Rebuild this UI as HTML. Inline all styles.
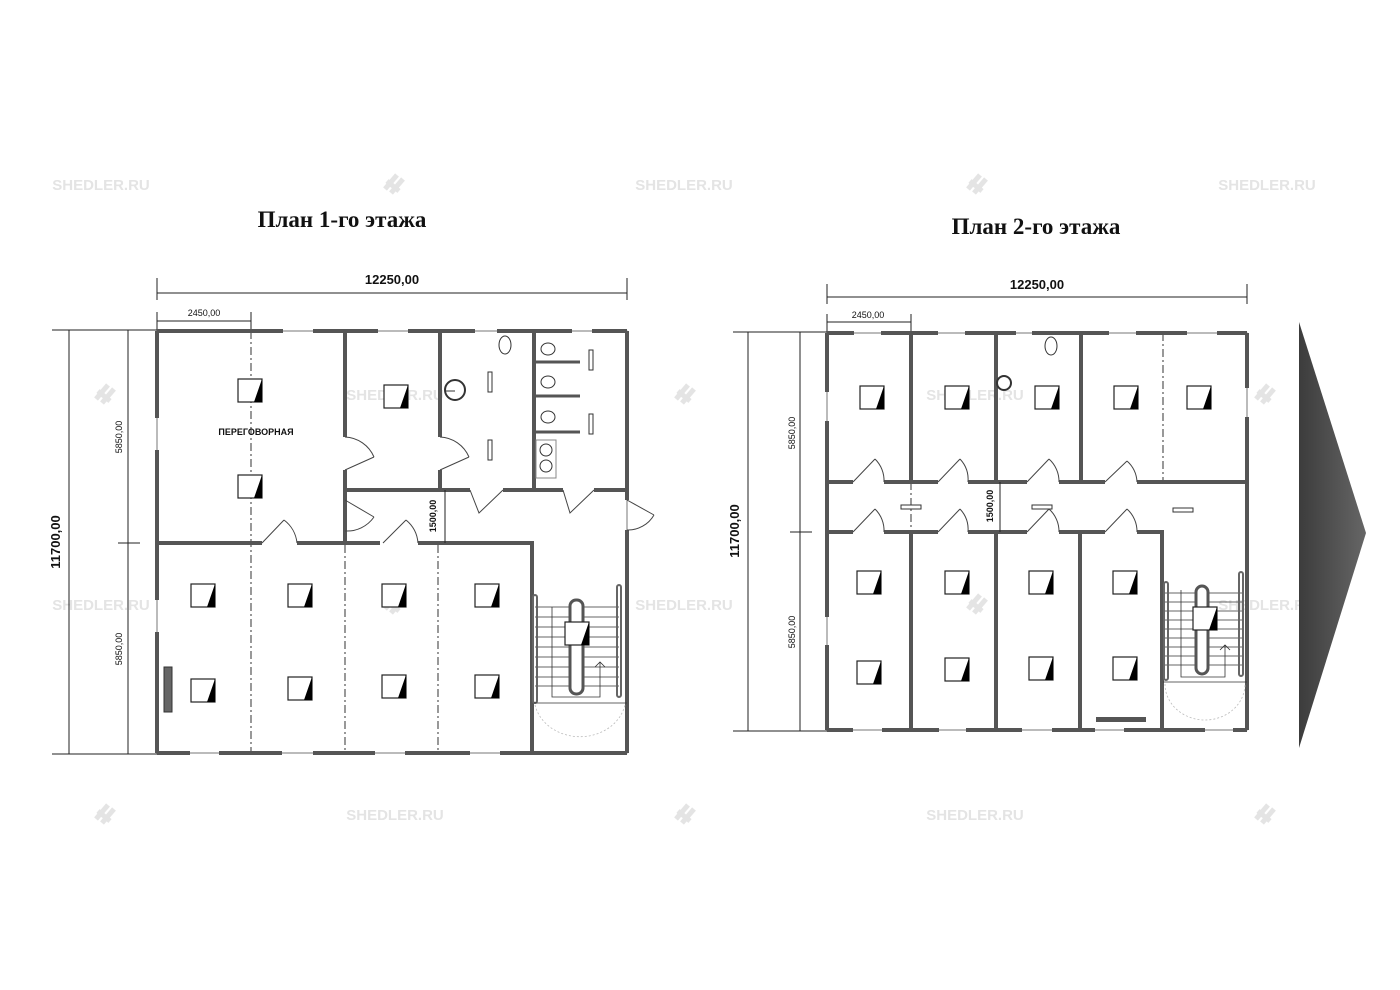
<!DOCTYPE html>
<html><head><meta charset="utf-8"><style>
html,body{margin:0;padding:0;background:#fff;width:1400px;height:990px;overflow:hidden}
svg{display:block}
.t{font-family:"Liberation Serif",serif;font-weight:bold;font-size:23px;fill:#111}
.d{font-family:"Liberation Sans",sans-serif;font-size:13px;fill:#111}
.ds{font-family:"Liberation Sans",sans-serif;font-size:9px;fill:#111}
.wm{font-family:"Liberation Sans",sans-serif;font-weight:bold;font-size:15px;fill:#e4e4e4}
.w{stroke:#555;stroke-width:4;fill:none}
.th{stroke:#777;stroke-width:1;fill:none}
.dash{stroke:#555;stroke-width:1.2;stroke-dasharray:8 3 2 3;fill:none}
.dl{stroke:#222;stroke-width:1;fill:none}
.dr{stroke:#444;stroke-width:1;fill:none}
</style></head><body>
<svg width="1400" height="990" viewBox="0 0 1400 990">
<defs>
<g id="fx"><rect x="0" y="0" width="24" height="23" fill="#fff" stroke="#222" stroke-width="1.2"/><polygon points="24,0 24,23 16,23" fill="#000"/></g>
<g id="lg"><path d="M-8,6 L4,-8 M-2,10 L10,-4 M-6,-2 L6,8" stroke="#e4e4e4" stroke-width="5" fill="none"/></g>
</defs>

<g>
<text class="wm" x="101" y="190" text-anchor="middle">SHEDLER.RU</text>
<text class="wm" x="684" y="190" text-anchor="middle">SHEDLER.RU</text>
<text class="wm" x="1267" y="190" text-anchor="middle">SHEDLER.RU</text>
<text class="wm" x="395" y="400" text-anchor="middle">SHEDLER.RU</text>
<text class="wm" x="975" y="400" text-anchor="middle">SHEDLER.RU</text>
<text class="wm" x="101" y="610" text-anchor="middle">SHEDLER.RU</text>
<text class="wm" x="684" y="610" text-anchor="middle">SHEDLER.RU</text>
<text class="wm" x="1267" y="610" text-anchor="middle">SHEDLER.RU</text>
<text class="wm" x="395" y="820" text-anchor="middle">SHEDLER.RU</text>
<text class="wm" x="975" y="820" text-anchor="middle">SHEDLER.RU</text>
<use href="#lg" x="393" y="183"/><use href="#lg" x="976" y="183"/>
<use href="#lg" x="104" y="393"/><use href="#lg" x="684" y="393"/><use href="#lg" x="1264" y="393"/>
<use href="#lg" x="393" y="603"/><use href="#lg" x="976" y="603"/>
<use href="#lg" x="104" y="813"/><use href="#lg" x="684" y="813"/><use href="#lg" x="1264" y="813"/>
</g>

<text class="t" x="342" y="227" text-anchor="middle">План 1-го этажа</text>
<text class="t" x="1036" y="234" text-anchor="middle">План 2-го этажа</text>

<!-- ===== PLAN 1 ===== -->
<g>
<line class="dl" x1="157" y1="293" x2="627" y2="293"/>
<line class="dl" x1="157" y1="278" x2="157" y2="300"/><line class="dl" x1="627" y1="278" x2="627" y2="300"/>
<text class="d" x="392" y="284" text-anchor="middle" font-weight="bold">12250,00</text>
<line class="dl" x1="157" y1="321" x2="251" y2="321"/>
<line class="dl" x1="157" y1="312" x2="157" y2="331"/><line class="dl" x1="251" y1="312" x2="251" y2="331"/>
<text class="ds" x="204" y="316" text-anchor="middle">2450,00</text>
<line class="dl" x1="52" y1="330" x2="157" y2="330"/>
<line class="dl" x1="52" y1="754" x2="157" y2="754"/>
<line class="dl" x1="69" y1="330" x2="69" y2="754"/>
<line class="dl" x1="128" y1="330" x2="128" y2="754"/>
<line class="dl" x1="118" y1="543" x2="140" y2="543"/>
<text class="d" font-weight="bold" transform="translate(60,542) rotate(-90)" text-anchor="middle">11700,00</text>
<text class="ds" transform="translate(122,437) rotate(-90)" text-anchor="middle">5850,00</text>
<text class="ds" transform="translate(122,649) rotate(-90)" text-anchor="middle">5850,00</text>
</g>
<rect class="th" x="157" y="331" width="470" height="422"/>
<g class="w">
<path d="M157,331 H283 M313,331 H378 M408,331 H475 M497,331 H572 M592,331 H627"/>
<path d="M157,331 V418 M157,450 V600 M157,632 V753"/>
<path d="M157,753 H190 M219,753 H282 M313,753 H375 M405,753 H470 M500,753 H627"/>
<path d="M627,331 V500 M627,530 V753"/>
<path d="M345,331 V437 M345,470 V545"/>
<path d="M440,331 V437 M440,470 V490"/>
<path d="M534,331 V488"/>
<path d="M345,490 H470 M503,490 H563 M594,490 H627"/>
<path d="M157,543 H262 M297,543 H380 M418,543 H532 V753"/>
</g>
<g class="dr">
<path d="M345,470 L374,457 M345,437 A33,33 0 0 1 374,457"/>
<path d="M440,470 L469,457 M440,437 A33,33 0 0 1 469,457"/>
<path d="M345,500 L374,517 M345,531 A33,33 0 0 0 374,517"/>
<path d="M262,543 L284,520 M297,543 A33,33 0 0 0 284,520"/>
<path d="M383,543 L406,520 M418,543 A33,33 0 0 0 406,520"/>
<path d="M470,490 L479,513 L503,490"/>
<path d="M563,490 L570,513 L594,490"/>
<path d="M627,500 L654,515 M627,530 A30,30 0 0 0 654,515"/>
</g>
<line class="dash" x1="251" y1="331" x2="251" y2="753"/>
<line class="dash" x1="345" y1="545" x2="345" y2="753"/>
<line class="dash" x1="438" y1="545" x2="438" y2="753"/>
<line class="dl" x1="445" y1="490" x2="445" y2="543"/>
<text class="ds" font-weight="bold" font-size="11" transform="translate(436,516) rotate(-90)" text-anchor="middle">1500,00</text>
<text class="ds" x="256" y="435" text-anchor="middle" font-size="7" font-weight="bold">ПЕРЕГОВОРНАЯ</text>
<use href="#fx" x="238" y="379"/><use href="#fx" x="238" y="475"/><use href="#fx" x="384" y="385"/>
<use href="#fx" x="191" y="584"/><use href="#fx" x="288" y="584"/><use href="#fx" x="382" y="584"/><use href="#fx" x="475" y="584"/>
<use href="#fx" x="191" y="679"/><use href="#fx" x="288" y="677"/><use href="#fx" x="382" y="675"/><use href="#fx" x="475" y="675"/>
<rect x="164" y="667" width="8" height="45" fill="#666" stroke="#333"/>
<g stroke="#333" fill="#fff" stroke-width="1">
<ellipse cx="505" cy="345" rx="6" ry="9"/>
<circle cx="455" cy="390" r="10" stroke-width="2"/><line x1="445" y1="391" x2="455" y2="391"/>
<ellipse cx="548" cy="349" rx="7" ry="6"/><ellipse cx="548" cy="382" rx="7" ry="6"/><ellipse cx="548" cy="417" rx="7" ry="6"/>
<path d="M536,362 H580 M536,396 H580 M536,432 H580" stroke="#555" stroke-width="3"/>
<rect x="536" y="440" width="20" height="38" stroke="#888"/>
<circle cx="546" cy="450" r="6"/><circle cx="546" cy="466" r="6"/>
<rect x="488" y="372" width="4" height="20" stroke="#333"/><rect x="488" y="440" width="4" height="20"/>
<rect x="589" y="350" width="4" height="20"/><rect x="589" y="414" width="4" height="20"/>
</g>
<g stroke="#333" stroke-width="0.8" fill="none">
<path d="M535,607 H619 M535,617 H619 M535,627 H619 M535,637 H619 M535,647 H619 M535,657 H619 M535,667 H619 M535,677 H619 M535,686 H619"/>
<rect x="570" y="600" width="13" height="94" rx="6" stroke="#555" stroke-width="3" fill="#fff"/>
<rect x="533" y="595" width="4" height="108" rx="2" stroke="#666" stroke-width="2"/>
<rect x="617" y="585" width="4" height="112" rx="2" stroke="#666" stroke-width="2"/>
<path d="M552,607 V697 H600 V662 M595,667 L600,662 L605,667"/>
<line x1="534" y1="703" x2="627" y2="703"/>
<path d="M535,705 A46,40 0 0 0 625,705" stroke="#bbb" stroke-dasharray="2 2"/>
</g>
<use href="#fx" x="565" y="622"/>

<!-- ===== PLAN 2 ===== -->
<g>
<line class="dl" x1="827" y1="297" x2="1247" y2="297"/>
<line class="dl" x1="827" y1="284" x2="827" y2="304"/><line class="dl" x1="1247" y1="284" x2="1247" y2="304"/>
<text class="d" x="1037" y="289" text-anchor="middle" font-weight="bold">12250,00</text>
<line class="dl" x1="827" y1="322" x2="911" y2="322"/>
<line class="dl" x1="827" y1="314" x2="827" y2="333"/><line class="dl" x1="911" y1="314" x2="911" y2="333"/>
<text class="ds" x="868" y="318" text-anchor="middle">2450,00</text>
<line class="dl" x1="733" y1="332" x2="827" y2="332"/>
<line class="dl" x1="733" y1="731" x2="827" y2="731"/>
<line class="dl" x1="748" y1="332" x2="748" y2="731"/>
<line class="dl" x1="800" y1="332" x2="800" y2="731"/>
<line class="dl" x1="790" y1="532" x2="812" y2="532"/>
<text class="d" font-weight="bold" transform="translate(739,531) rotate(-90)" text-anchor="middle">11700,00</text>
<text class="ds" transform="translate(795,433) rotate(-90)" text-anchor="middle">5850,00</text>
<text class="ds" transform="translate(795,632) rotate(-90)" text-anchor="middle">5850,00</text>
</g>
<rect class="th" x="827" y="333" width="420" height="397"/>
<g class="w">
<path d="M827,333 H854 M881,333 H938 M965,333 H1016 M1032,333 H1109 M1136,333 H1187 M1217,333 H1247"/>
<path d="M827,333 V392 M827,421 V617 M827,645 V730"/>
<path d="M1247,333 V388 M1247,417 V730"/>
<path d="M827,730 H853 M882,730 H939 M966,730 H1022 M1052,730 H1095 M1124,730 H1205 M1233,730 H1247"/>
<path d="M911,333 V482 M996,333 V482 M1081,333 V482"/>
<path d="M827,482 H853 M884,482 H938 M968,482 H1027 M1059,482 H1105 M1137,482 H1247"/>
<path d="M827,532 H853 M884,532 H938 M968,532 H1027 M1059,532 H1105 M1137,532 H1162 V730"/>
<path d="M911,532 V730 M996,532 V730 M1080,532 V730"/>
</g>
<g class="dr">
<path d="M853,482 L875,459 M884,482 A30,30 0 0 0 875,459"/>
<path d="M938,482 L960,459 M968,482 A30,30 0 0 0 960,459"/>
<path d="M1027,482 L1049,459 M1059,482 A30,30 0 0 0 1049,459"/>
<path d="M1105,482 L1127,461 M1137,482 A30,30 0 0 0 1127,461"/>
<path d="M853,532 L875,509 M884,532 A30,30 0 0 0 875,509"/>
<path d="M938,532 L960,509 M968,532 A30,30 0 0 0 960,509"/>
<path d="M1027,532 L1049,509 M1059,532 A30,30 0 0 0 1049,509"/>
<path d="M1105,532 L1127,509 M1137,532 A30,30 0 0 0 1127,509"/>
</g>
<line class="dash" x1="1163" y1="333" x2="1163" y2="482"/>
<line class="dash" x1="911" y1="482" x2="911" y2="532"/>
<line class="dl" x1="1000" y1="482" x2="1000" y2="532"/>
<text class="ds" font-weight="bold" font-size="10" transform="translate(993,506) rotate(-90)" text-anchor="middle">1500,00</text>
<g fill="#fff" stroke="#333">
<rect x="901" y="505" width="20" height="4"/><rect x="1032" y="505" width="20" height="4"/><rect x="1173" y="508" width="20" height="4"/>
<ellipse cx="1051" cy="346" rx="6" ry="9"/>
<circle cx="1004" cy="383" r="7" stroke-width="2"/>
</g>
<use href="#fx" x="860" y="386"/><use href="#fx" x="945" y="386"/><use href="#fx" x="1035" y="386"/><use href="#fx" x="1114" y="386"/><use href="#fx" x="1187" y="386"/>
<use href="#fx" x="857" y="571"/><use href="#fx" x="945" y="571"/><use href="#fx" x="1029" y="571"/><use href="#fx" x="1113" y="571"/>
<use href="#fx" x="857" y="661"/><use href="#fx" x="945" y="658"/><use href="#fx" x="1029" y="657"/><use href="#fx" x="1113" y="657"/>
<rect x="1096" y="717" width="50" height="5" fill="#555"/>
<g stroke="#333" stroke-width="0.8" fill="none">
<path d="M1165,593 H1243 M1165,602 H1243 M1165,611 H1243 M1165,620 H1243 M1165,629 H1243 M1165,638 H1243 M1165,647 H1243 M1165,656 H1243 M1165,665 H1243"/>
<rect x="1196" y="586" width="12" height="88" rx="6" stroke="#555" stroke-width="3" fill="#fff"/>
<rect x="1164" y="582" width="4" height="98" rx="2" stroke="#666" stroke-width="2"/>
<rect x="1239" y="572" width="4" height="104" rx="2" stroke="#666" stroke-width="2"/>
<path d="M1181,590 V677 H1225 V645 M1220,650 L1225,645 L1230,650"/>
<line x1="1163" y1="682" x2="1247" y2="682"/>
<path d="M1165,684 A40,36 0 0 0 1245,684" stroke="#bbb" stroke-dasharray="2 2"/>
</g>
<use href="#fx" x="1193" y="607"/>

<defs><linearGradient id="gr" x1="0" x2="1"><stop offset="0" stop-color="#3c3c3c"/><stop offset="1" stop-color="#666"/></linearGradient></defs>
<polygon points="1299,322 1366,533 1299,748" fill="url(#gr)"/>
</svg>
</body></html>
